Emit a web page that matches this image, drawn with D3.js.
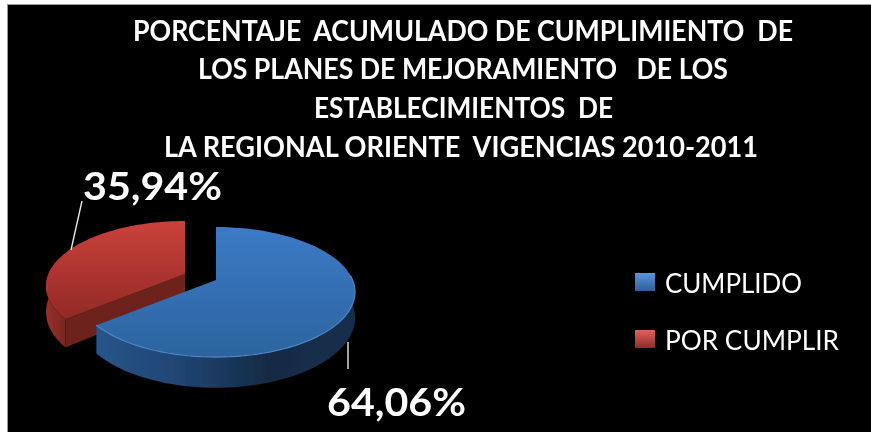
<!DOCTYPE html>
<html>

<head>
  <title>Cumplimiento</title>
  <script src="https://cdn.jsdelivr.net/npm/d3@7"></script>
  <style>
    html, body { margin: 0; padding: 0; background: #fff; }
    text { font-family: Lato, "Open Sans", sans-serif; fill: #fff; }
  </style>
</head>

<body>
  <svg width="871" height="432" id="mainsvg" style="display: block;"></svg>
  <script>
    const categories = ['CUMPLIDO', 'POR CUMPLIR'];
    const values = [64.06, 35.94];
    const valueLabels = ['64,06%', '35,94%'];
    const titleLines = [
      'PORCENTAJE  ACUMULADO DE CUMPLIMIENTO  DE',
      'LOS PLANES DE MEJORAMIENTO   DE LOS',
      'ESTABLECIMIENTOS  DE',
      'LA REGIONAL ORIENTE  VIGENCIAS 2010-2011'
    ];

    const svg = d3.select('#mainsvg');
    const defs = svg.append('defs');
    defs.append('filter').attr('id', 'soft')
      .append('feGaussianBlur').attr('stdDeviation', 0.55);

    const gradient = (id, vertical, stops) => {
      const g = defs.append('linearGradient').attr('id', id)
        .attr('x1', 0).attr('y1', 0).attr('x2', vertical ? 0 : 1).attr('y2', vertical ? 1 : 0);
      stops.forEach((c, i) => g.append('stop').attr('offset', i / (stops.length - 1)).attr('stop-color', c));
    };
    gradient('blueTop', true, ['#3c7ac6', '#2c649f']);
    gradient('redTop', true, ['#cb413b', '#922a26']);
    gradient('blueWall', false, ['#28558a', '#1f4472', '#142b45', '#162f4d']);
    gradient('redWall', false, ['#96302a', '#7d2621']);
    gradient('blueKey', true, ['#5b95dc', '#2c5f9c']);
    gradient('redKey', true, ['#e0625c', '#8f2b27']);

    const color = d3.scaleOrdinal().domain(categories).range(['blue', 'red']);

    svg.append('rect').attr('x', 0).attr('y', 0).attr('width', 871).attr('height', 432).attr('fill', '#fff');
    svg.append('rect').attr('x', 7).attr('y', 4).attr('width', 864).attr('height', 428).attr('fill', '#9a9a9a');
    svg.append('rect').attr('x', 8).attr('y', 5).attr('width', 863).attr('height', 427).attr('fill', '#000');

    // pie seen in perspective: the far side is squeezed, the near side is stretched
    const cx = 216, cy = 280, R = 136.6, Ry = 62.8, k = 0.185, depth = 25;
    const project = (a, r, z) => {
      const u = Math.sin(a) * r, v = -Math.cos(a) * r;
      const w = 1 - k * v;
      return [cx + R * u / w, cy + (Ry * v + depth * z) / w];
    };
    const line = d3.line();
    const arcPts = (a0, a1, z) => d3.range(0, 61).map(i => project(a0 + (a1 - a0) * i / 60, 1, z));

    const pie = d3.pie().sort(null).value(d => d)(values);
    const offsets = [[0, 0], [-31, -6]];

    const chart = svg.append('g').attr('filter', 'url(#soft)');

    // red first, the blue slice sits in front of it
    [1, 0].forEach(i => {
      const d = pie[i];
      const name = color(categories[i]);
      const g = chart.append('g').attr('transform', `translate(${offsets[i]})`);
      if (i === 1) {
        // outer wall then the cut wall
        g.append('path')
          .attr('d', line(arcPts(d.startAngle, d.startAngle + 0.9, 0).concat(arcPts(d.startAngle + 0.9, d.startAngle, 1))) + 'Z')
          .attr('fill', 'url(#redWall)');
        g.append('path')
          .attr('d', line([project(0, 0, 0), project(d.startAngle, 1, 0), project(d.startAngle, 1, 1), project(0, 0, 1)]) + 'Z')
          .attr('fill', '#6e201c');
      } else {
        g.append('path')
          .attr('d', line(arcPts(1.2, d.endAngle, 0).concat(arcPts(d.endAngle, 1.2, 1))) + 'Z')
          .attr('fill', 'url(#blueWall)');
      }
      g.append('path')
        .attr('d', line([project(0, 0, 0)].concat(arcPts(d.startAngle, d.endAngle, 0))) + 'Z')
        .attr('fill', `url(#${name}Top)`);
      // light rim along the near edge of the blue slice
      if (i === 0) {
        g.append('path').attr('d', line(arcPts(1.5, d.endAngle, 0))).attr('fill', 'none')
          .attr('stroke', '#4f86ca').attr('stroke-width', 1.2);
      }
    });

    // leader lines
    const leaders = [[[348, 342], [348, 369]], [[71, 250], [82, 201]]];
    chart.selectAll('.leader').data(leaders).join('path')
      .attr('class', 'leader')
      .attr('d', d => line(d))
      .attr('stroke', '#e6e6e6').attr('stroke-width', 1.4).attr('fill', 'none');

    const texts = svg.append('g').attr('filter', 'url(#soft)');

    const titleLayout = [[133, 660, 41], [198, 530, 79], [314, 299, 118], [164, 594, 157]];
    texts.selectAll('.title').data(titleLines).join('text')
      .attr('class', 'title')
      .attr('x', (d, i) => titleLayout[i][0])
      .attr('y', (d, i) => titleLayout[i][2])
      .attr('textLength', (d, i) => titleLayout[i][1])
      .attr('lengthAdjust', 'spacingAndGlyphs')
      .attr('font-size', 28).attr('font-weight', 700)
      .style('white-space', 'pre')
      .text(d => d);

    const labelLayout = [[327, 416], [83, 200]];
    texts.selectAll('.value').data(valueLabels).join('text')
      .attr('class', 'value')
      .attr('x', (d, i) => labelLayout[i][0])
      .attr('y', (d, i) => labelLayout[i][1])
      .attr('textLength', 139)
      .attr('lengthAdjust', 'spacingAndGlyphs')
      .attr('font-size', 39).attr('font-weight', 700)
      .text(d => d);

    const keyY = d3.scalePoint().domain(categories).range([273, 330]);
    const keyLen = [137, 174];
    const key = texts.selectAll('.key').data(categories).join('g')
      .attr('class', 'key')
      .attr('transform', d => `translate(635, ${keyY(d)})`);
    key.append('rect').attr('width', 20).attr('height', 18)
      .attr('fill', d => `url(#${color(d)}Key)`);
    key.append('text').attr('x', 30).attr('y', 20)
      .attr('textLength', (d, i) => keyLen[i])
      .attr('lengthAdjust', 'spacingAndGlyphs')
      .attr('font-size', 27)
      .text(d => d);
  </script>
</body>

</html>
